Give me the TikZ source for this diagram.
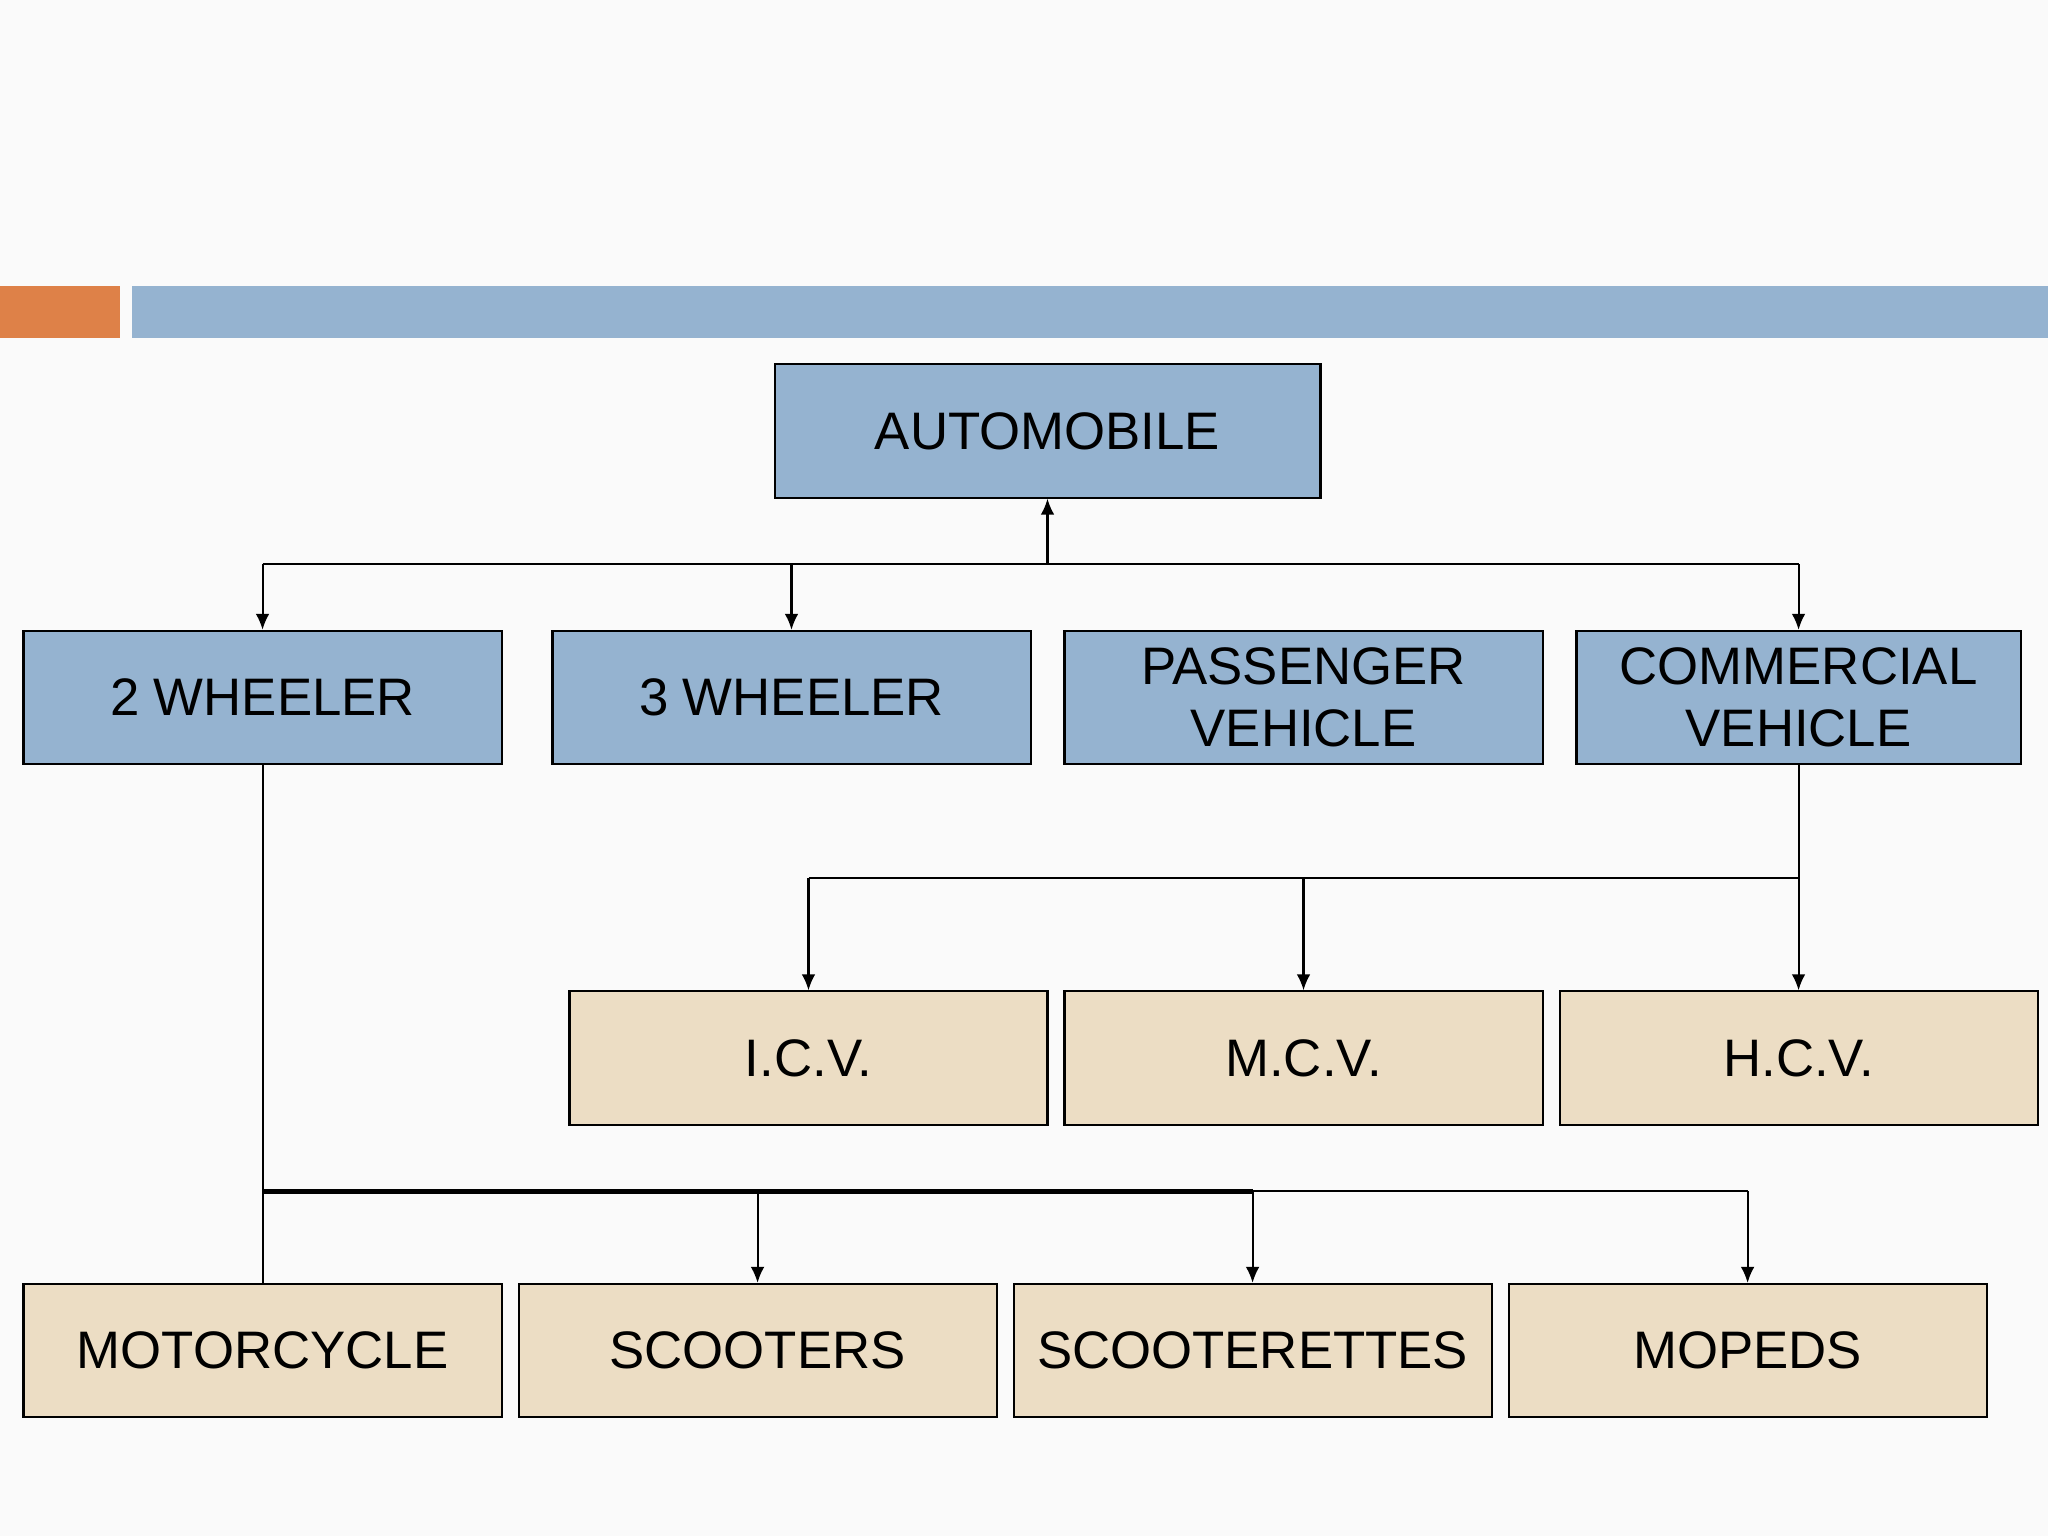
\documentclass[tikz,border=0pt]{standalone}
\usepackage{fontspec}
\setmainfont{Liberation Sans}
\usetikzlibrary{arrows.meta}
\definecolor{bblue}{HTML}{95B3D0}
\definecolor{beige}{HTML}{ECDDC4}
\definecolor{orng}{HTML}{DE8148}
\begin{document}
\begin{tikzpicture}[x=0.02cm,y=-0.02cm,
  box/.style={draw=black,line width=0.9pt,minimum width=366*0.02cm,minimum height=102*0.02cm,inner sep=0pt,align=center,font=\fontsize{23}{27}\selectfont},
  bb/.style={box,fill=bblue},
  be/.style={box,fill=beige},
  ln/.style={line width=0.9pt},
  ar/.style={ln,-{Latex[length=7pt,width=6pt]}}]
\fill[white!98!black] (0,0) rectangle (1568,1176);
\useasboundingbox (0,0) rectangle (1568,1176);
\fill[orng] (0,219) rectangle (92,259);
\fill[bblue] (101,219) rectangle (1568,259);
\node[bb,minimum width=418*0.02cm] (auto) at (802,330) {AUTOMOBILE};
\node[bb] (w2) at (201,534) {2 WHEELER};
\node[bb] (w3) at (606,534) {3 WHEELER};
\node[bb] (pv) at (998,534) {PASSENGER\\VEHICLE};
\node[bb,minimum width=340*0.02cm] (cv) at (1377,534) {COMMERCIAL\\VEHICLE};
\node[be] (icv) at (619,810) {I.C.V.};
\node[be] (mcv) at (998,810) {M.C.V.};
\node[be] (hcv) at (1377,810) {H.C.V.};
\node[be] (moto) at (201,1034) {MOTORCYCLE};
\node[be] (sc) at (580,1034) {SCOOTERS};
\node[be] (sct) at (959,1034) {SCOOTERETTES};
\node[be] (mop) at (1338,1034) {MOPEDS};
\coordinate (j1) at (802,432);
\coordinate (j2) at (1377,672);
\coordinate (j3) at (201,912);
\draw[ar] (j1) -- (auto.south);
\draw[ln] (j1 -| w2) -- (j1 -| cv);
\draw[ar] (j1 -| w2) -- (w2.north);
\draw[ar] (j1 -| w3) -- (w3.north);
\draw[ar] (j1 -| cv) -- (cv.north);
\draw[ln] (cv.south) -- (j2);
\draw[ln] (j2 -| icv) -- (j2);
\draw[ar] (j2 -| icv) -- (icv.north);
\draw[ar] (j2 -| mcv) -- (mcv.north);
\draw[ar] (j2) -- (hcv.north);
\draw[ln] (w2.south) -- (moto.north);
\draw[line width=2.2pt] (j3) -- (j3 -| sct);
\draw[ln] (j3 -| sct) -- (j3 -| mop);
\draw[ar] (j3 -| sc) -- (sc.north);
\draw[ar] (j3 -| sct) -- (sct.north);
\draw[ar] (j3 -| mop) -- (mop.north);
\end{tikzpicture}
\end{document}
